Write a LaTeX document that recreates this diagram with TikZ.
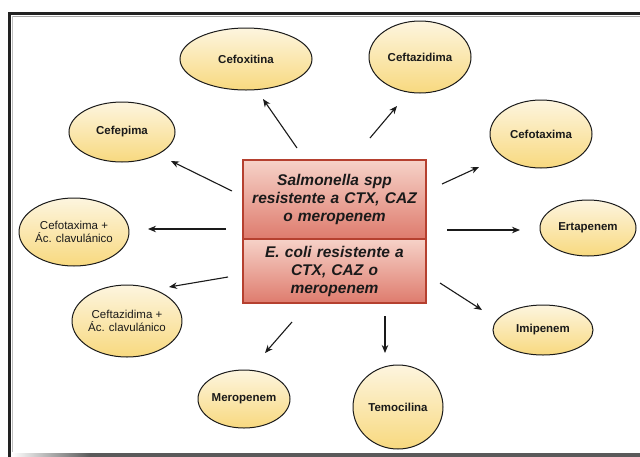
\documentclass[tikz,border=0pt]{standalone}
\usepackage{fontspec}
\setmainfont{Liberation Sans}
\usetikzlibrary{shapes.geometric,arrows.meta}
\definecolor{creamtop}{HTML}{FDF5DF}
\definecolor{creambot}{HTML}{F8D97F}
\definecolor{redtop}{HTML}{F6D2C8}
\definecolor{redbot}{HTML}{DE7B6D}
\definecolor{redline}{HTML}{B5402F}
\definecolor{framec}{HTML}{222222}
\definecolor{shadowc}{HTML}{5A5A5A}
\definecolor{inkc}{HTML}{1A1A1A}
\tikzset{
  drug/.style={ellipse, draw=inkc, line width=1pt, top color=creamtop, bottom color=creambot,
    inner sep=0pt, align=center, text=inkc},
  bold/.style={font=\bfseries\fontsize{11.5}{13}\selectfont},
  plain/.style={font=\fontsize{11.5}{13.5}\selectfont},
  section/.style={rectangle, draw=redline, line width=1.2pt, top color=redtop, bottom color=redbot,
    inner sep=0pt, align=center, text width=176pt, text=inkc,
    font=\bfseries\itshape\fontsize{15.5}{18}\selectfont},
  link/.style={draw=inkc, line width=1.1pt, -{Stealth[length=8pt,width=6.5pt]}}
}
\begin{document}
\begin{tikzpicture}[x=1pt,y=-1pt]
\useasboundingbox (0,0) rectangle (640,456);
% page frame with its shadow
\fill[white] (0,0) rectangle (640,456);
\draw[line width=1pt, gray!70] (12,16) -- (645,16);
\draw[line width=1pt, gray!50] (12.5,16) -- (12.5,452);
\shade[left color=white, right color=shadowc] (12,453) rectangle (90,457);
\fill[shadowc] (90,453) rectangle (645,457);
\draw[line width=3pt, framec] (9.5,460) -- (9.5,13.5) -- (645,13.5);

% central box in two sections
\node[section, minimum width=183pt, minimum height=79pt] (salm) at (334.5,199.5)
  {Salmonella spp\\resistente a CTX, CAZ\\o meropenem};
\node[section, minimum width=183pt, minimum height=64pt] (ecoli) at (334.5,271)
  {E. coli resistente a\\CTX, CAZ o\\meropenem};

% antibiotics
\node[drug, bold, minimum width=132pt, minimum height=62pt] (cefox) at (246,59) {Cefoxitina};
\node[drug, bold, minimum width=102pt, minimum height=72pt] (ceftaz) at (420,57) {Ceftazidima};
\node[drug, bold, minimum width=106pt, minimum height=60pt] (cefep) at (122,132) {Cefepima};
\node[drug, bold, minimum width=102pt, minimum height=68pt] (cefot) at (541,134) {Cefotaxima};
\node[drug, plain, minimum width=100pt, minimum height=68pt] (cefotac) at (74,232) {Cefotaxima +\\Ác. clavulánico};
\node[drug, bold, minimum width=96pt, minimum height=56pt] (erta) at (588,228) {Ertapenem};
\node[drug, plain, minimum width=108pt, minimum height=72pt] (ceftac) at (127,321) {Ceftazidima +\\Ác. clavulánico};
\node[drug, bold, minimum width=100pt, minimum height=50pt] (imi) at (543,330) {Imipenem};
\node[drug, bold, minimum width=92pt, minimum height=58pt] (mero) at (244,399) {Meropenem};
\node[drug, bold, minimum width=90pt, minimum height=84pt] (temo) at (398,407) {Temocilina};

% arrow ends
\coordinate (s1) at (297,148); \coordinate (e1) at (263,99);
\coordinate (s2) at (370,138); \coordinate (e2) at (397,106);
\coordinate (s3) at (232,191); \coordinate (e3) at (171,161);
\coordinate (s4) at (442,184); \coordinate (e4) at (479,167);
\coordinate (s5) at (226,229); \coordinate (e5) at (148,229);
\coordinate (s6) at (447,230); \coordinate (e6) at (520,230);
\coordinate (s7) at (228,277); \coordinate (e7) at (169,287);
\coordinate (s8) at (440,283); \coordinate (e8) at (482,310);
\coordinate (s9) at (292,322); \coordinate (e9) at (265,353);
\coordinate (s10) at (385,316); \coordinate (e10) at (385,353);

\foreach \i in {1,...,10} { \draw[link] (s\i) -- (e\i); }
\end{tikzpicture}
\end{document}
